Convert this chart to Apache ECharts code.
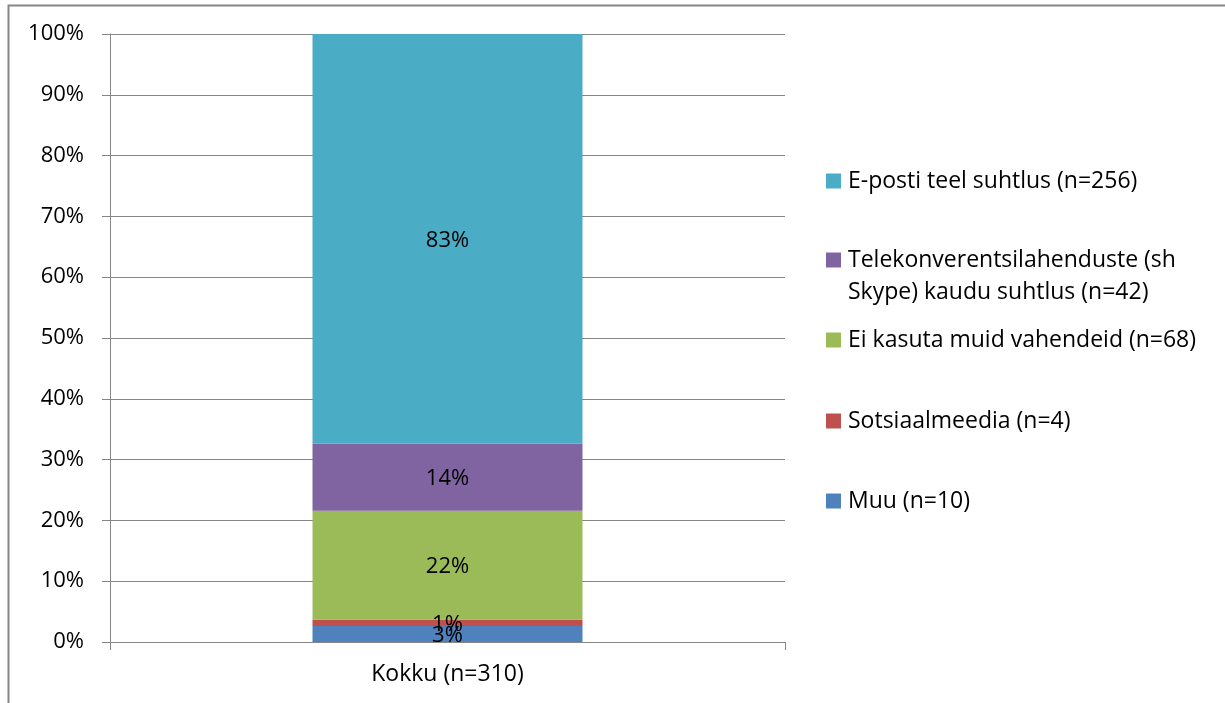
<!DOCTYPE html>
<html lang="et">
<head>
<meta charset="UTF-8">
<title>Kokku (n=310)</title>
<script src="https://cdn.jsdelivr.net/npm/echarts@6/dist/echarts.min.js"></script>
<style>
  body { margin: 0; padding: 0; background: #fff; }
  #container { width: 1225px; height: 703px; }
</style>
</head>
<body>
<div id="container"></div>
<script>
// kategooria
const categories = ['Kokku (n=310)'];
// seeriad (alt üles) ja vastajate arv
const seriesNames = [
  'Muu (n=10)',
  'Sotsiaalmeedia (n=4)',
  'Ei kasuta muid vahendeid (n=68)',
  'Telekonverentsilahenduste (sh Skype) kaudu suhtlus (n=42)',
  'E-posti teel suhtlus (n=256)'
];
const counts = [10, 4, 68, 42, 256];
// sildid nagu joonisel (protsent n=310 kohta)
const labelTexts = ['3%', '1%', '22%', '14%', '83%'];
const colors = ['#4F81BD', '#C0504D', '#9BBB59', '#8064A2', '#4BACC6'];

const FONT = 'Open Sans';
const FS_NUM = 22;   // numbrid
const FS_TXT = 23;   // tekstid
const total = counts.reduce((a, b) => a + b, 0);

const chart = echarts.init(document.getElementById('container'));

// legendi keskkohad (y), ülevalt alla
const legendMid = { 4: 181, 3: 260, 2: 340, 1: 421, 0: 501 };

const legends = seriesNames.map((name, i) => ({
  data: [name],
  left: 826,
  top: legendMid[i] - 15,
  padding: 0,
  itemWidth: 15,
  itemHeight: 15,
  itemGap: 0,
  icon: 'rect',
  selectedMode: false,
  formatter: i === 3 ? 'Telekonverentsilahenduste (sh' : '{name}',
  textStyle: { fontFamily: FONT, fontSize: FS_TXT, color: '#000', lineHeight: 30, padding: [0, 0, 0, 2] }
}));

const option = {
  animation: false,
  color: colors,
  legend: legends,
  grid: { left: 110, right: 440, top: 34, bottom: 61 },
  xAxis: {
    type: 'category',
    data: categories,
    axisLine: { lineStyle: { color: '#868686', width: 1 } },
    axisTick: { show: true, length: 8, lineStyle: { color: '#868686' } },
    axisLabel: { fontFamily: FONT, fontSize: FS_TXT, color: '#000', margin: 21 }
  },
  yAxis: {
    type: 'value',
    min: 0,
    max: 100,
    interval: 10,
    axisLine: { show: true, lineStyle: { color: '#868686' } },
    axisTick: { show: true, length: 8, lineStyle: { color: '#868686' } },
    splitLine: { lineStyle: { color: '#868686' } },
    axisLabel: {
      fontFamily: FONT, fontSize: FS_NUM, color: '#000', margin: 26,
      formatter: v => v + '%'
    }
  },
  series: seriesNames.map((name, i) => ({
    name: name,
    type: 'bar',
    stack: 'kokku',
    barWidth: '40%',
    data: [counts[i] / total * 100],
    itemStyle: { color: colors[i] },
    label: {
      show: true,
      position: 'inside',
      offset: [0, 2],
      fontFamily: FONT,
      fontSize: FS_NUM,
      color: '#000',
      formatter: () => labelTexts[i]
    }
  })),
  graphic: [
    {
      type: 'rect',
      shape: { x: 8.5, y: 5.5, width: 1300, height: 800 },
      style: { fill: 'none', stroke: '#868686', lineWidth: 2 },
      silent: true
    },
    {
      type: 'text',
      style: {
        x: 848, y: 292, verticalAlign: 'middle',
        text: 'Skype) kaudu suhtlus (n=42)',
        font: FS_TXT + 'px "' + FONT + '"', fill: '#000'
      }
    }
  ]
};

chart.setOption(option);
</script>
</body>
</html>
